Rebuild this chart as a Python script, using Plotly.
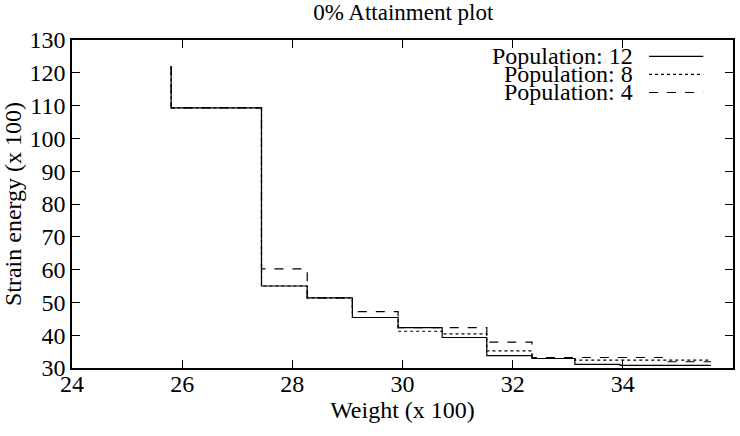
import plotly.graph_objects as go

# Step data: x = start of each level, y = level (line_shape 'hv')
x_pop12 = [25.80, 25.80, 27.44, 28.27, 29.09, 29.92, 30.72, 31.53, 32.35, 33.13, 33.95, 35.60]
y_pop12 = [122.0, 109.3, 55.0, 51.4, 45.4, 42.3, 39.3, 33.8, 32.9, 31.1, 30.8, 30.8]

x_pop8 = [25.80, 25.80, 27.44, 28.27, 29.09, 29.92, 30.72, 31.53, 32.35, 33.13, 35.60]
y_pop8 = [122.0, 109.3, 55.0, 51.4, 45.4, 41.2, 40.4, 35.2, 32.9, 32.4, 32.4]

x_pop4 = [25.80, 25.80, 27.44, 28.27, 29.09, 29.92, 31.53, 32.35, 34.80, 35.60]
y_pop4 = [122.0, 109.3, 60.2, 51.4, 47.2, 42.3, 37.9, 33.2, 31.9, 31.9]

series_names = ["Population: 12", "Population: 8", "Population: 4"]
series_dash = ["solid", "dot", "dash"]

x_ticks = [24, 26, 28, 30, 32, 34, 36]
y_ticks = [30, 40, 50, 60, 70, 80, 90, 100, 110, 120, 130]

FONT = "'Liberation Serif', 'DejaVu Serif', serif"
FS = 24

fig = go.Figure()
for xs, ys, name, dash in zip([x_pop12, x_pop8, x_pop4], [y_pop12, y_pop8, y_pop4],
                              series_names, series_dash):
    fig.add_trace(go.Scatter(x=xs, y=ys, mode="lines", name=name, line_shape="hv",
                             line=dict(color="black", width=1.2, dash=dash),
                             showlegend=False))

# custom gnuplot-style legend: text right-aligned, then line sample
leg_y = [0.950, 0.895, 0.840]
for name, dash, ly in zip(series_names, series_dash, leg_y):
    fig.add_annotation(xref="paper", yref="paper", x=0.852, y=ly, text=name,
                       showarrow=False, xanchor="right", yanchor="middle",
                       font=dict(family=FONT, size=FS, color="black"))
    fig.add_shape(type="line", xref="paper", yref="paper", x0=0.873, x1=0.955,
                  y0=ly, y1=ly, line=dict(color="black", width=1.2, dash=dash))

fig.update_layout(
    width=740, height=436,
    margin=dict(l=72, r=5, t=40, b=68),
    paper_bgcolor="white", plot_bgcolor="white",
    font=dict(family=FONT, size=FS, color="black"),
    title=dict(text="0% Attainment plot", x=0.545, xanchor="center",
               y=1 - 12 / 436, yanchor="middle", yref="container",
               font=dict(family=FONT, size=FS - 1, color="black")),
    showlegend=False,
)
fig.update_xaxes(range=[24, 36], tickvals=x_ticks, ticktext=[str(v) for v in x_ticks],
                 ticks="inside", ticklen=8, tickwidth=1, tickcolor="black",
                 showline=True, linecolor="black", linewidth=1.5, mirror="ticks",
                 showgrid=False, zeroline=False, ticklabelstandoff=-7,
                 tickfont=dict(family=FONT, size=FS),
                 title=dict(text="Weight (x 100)", standoff=0,
                            font=dict(family=FONT, size=FS)))
fig.update_yaxes(range=[30, 130], tickvals=y_ticks, ticktext=[str(v) for v in y_ticks],
                 ticks="inside", ticklen=8, tickwidth=1, tickcolor="black",
                 showline=True, linecolor="black", linewidth=1.5, mirror="ticks",
                 showgrid=False, zeroline=False,
                 tickfont=dict(family=FONT, size=FS),
                 title=dict(text="Strain energy (x 100)", standoff=4,
                            font=dict(family=FONT, size=FS)))

fig.write_html("out.html")
